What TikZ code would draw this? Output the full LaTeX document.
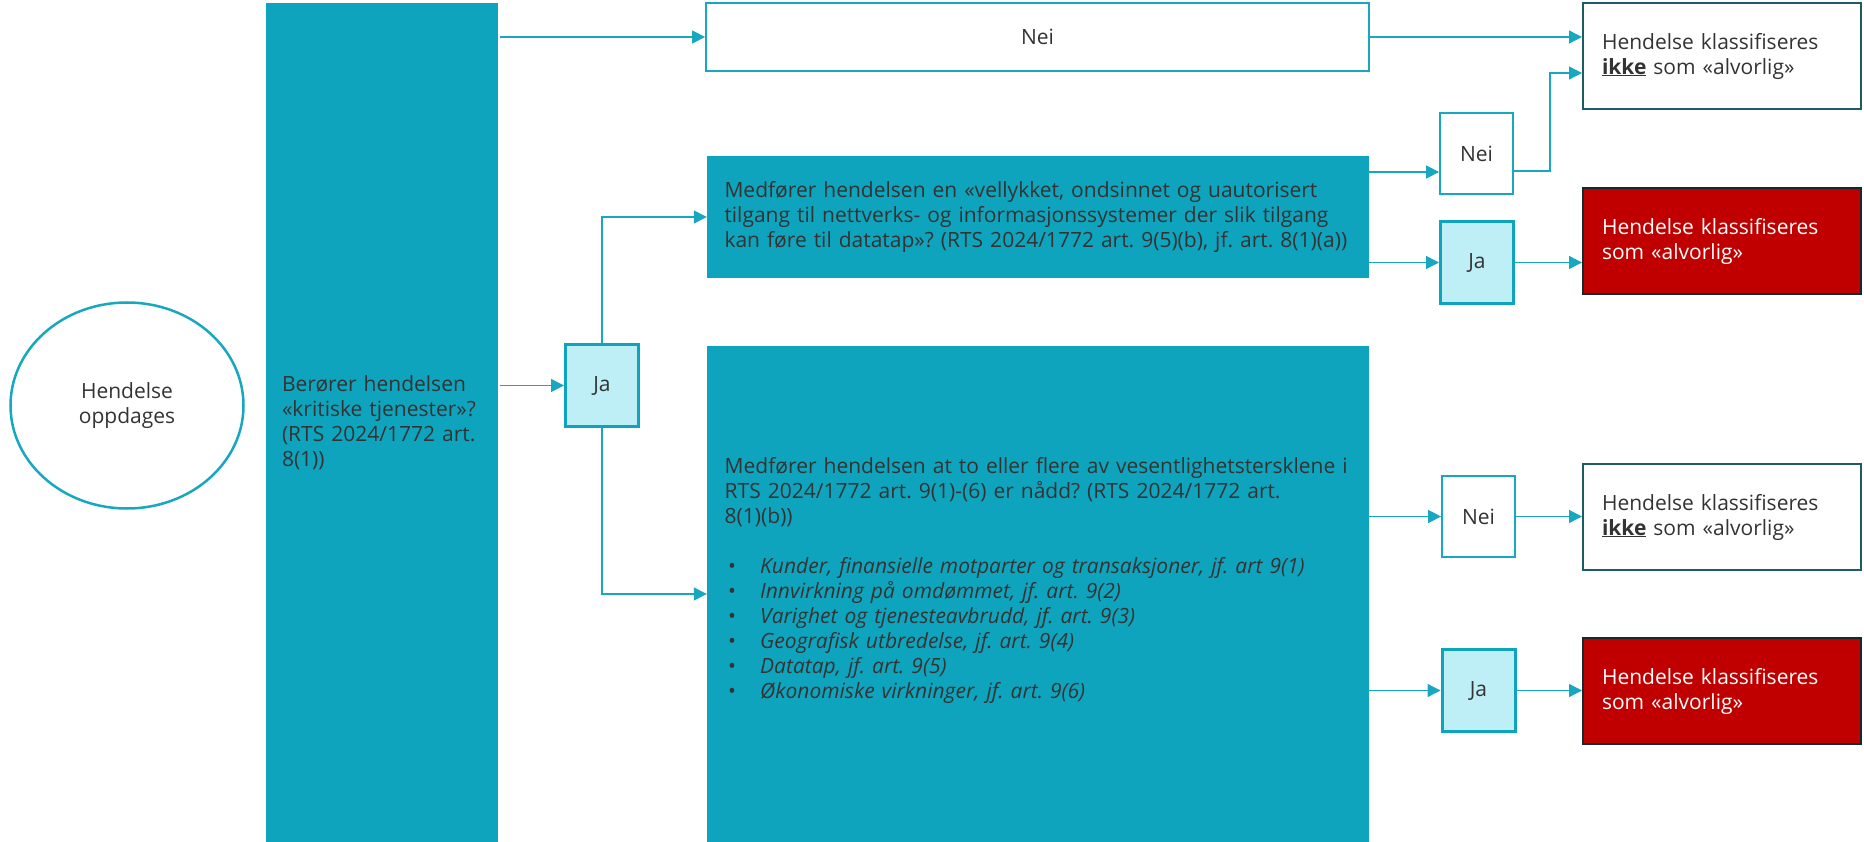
\documentclass[tikz,border=0pt]{standalone}
\usepackage{fontspec}
\setmainfont{Open Sans}
\frenchspacing
\usetikzlibrary{shapes.geometric,arrows.meta}
\definecolor{tealfyll}{HTML}{0FA4BD}
\definecolor{tealstrek}{HTML}{17A7C0}
\definecolor{jafyll}{HTML}{BEEFF6}
\definecolor{moerkkant}{HTML}{1D5C64}
\definecolor{roed}{HTML}{C00000}
\definecolor{roedkant}{HTML}{132B2E}
\definecolor{tekstgraa}{HTML}{333333}
\tikzset{
  tx/.style={font=\fontsize{21pt}{25pt}\selectfont, text=tekstgraa, inner sep=0pt},
  sirkel/.style={tx, ellipse, draw=tealstrek, line width=2.5pt, minimum width=233pt, minimum height=206pt, align=center},
  tealboks/.style={tx, fill=tealfyll, align=left},
  neiboks/.style={tx, draw=tealstrek, line width=1.8pt, fill=white, minimum width=73pt, minimum height=81pt},
  jaboks/.style={tx, draw=tealfyll, line width=3pt, fill=jafyll, minimum width=73pt, minimum height=82pt},
  ikkeboks/.style={tx, draw=moerkkant, line width=2pt, fill=white, minimum width=278pt, minimum height=106pt, text width=240pt, align=left},
  alvorligboks/.style={ikkeboks, draw=roedkant, fill=roed, text=white},
  pil/.style={draw=tealstrek, line width=1.3pt, -{Triangle[length=13pt,width=13pt]}}
}
\newcommand{\kulepunkt}[1]{\hspace*{3.5pt}\makebox[32pt][l]{•}\textit{#1}}

\begin{document}
\begin{tikzpicture}[x=1pt,y=-1pt]
\useasboundingbox (0,0) rectangle (1864,842);
\node [sirkel] (hendelse) at (127,405.5) {Hendelse\\oppdages};
\node [tealboks, minimum width=232pt, minimum height=839pt, text width=200pt] (kritisk) at (382,422.5)
  {Berører hendelsen\\«kritiske tjenester»?\\(RTS 2024/1772 art.\\8(1))};
\node [tx, draw=tealstrek, line width=1.8pt, minimum width=663pt, minimum height=68pt] (nei1) at (1037.5,37) {Nei};
\node [jaboks] (ja1) at (602,385.5) {Ja};
\node [tealboks, minimum width=662pt, minimum height=122pt, text width=627pt] (medfoerer) at (1038,217)
  {Medfører hendelsen en «vellykket, ondsinnet og uautorisert\\tilgang til nettverks- og informasjonssystemer der slik tilgang\\\mbox{kan føre til datatap»? (RTS 2024/1772 art. 9(5)(b), jf. art. 8(1)(a))}};
\node [tealboks, minimum width=662pt, minimum height=496pt] (vesentlig) at (1038,594) {};
\node [tx, anchor=north west, text width=640pt, align=left] (vesentlig-tekst) at (724.5,457)
  {Medfører hendelsen at to eller flere av vesentlighetstersklene i\\RTS 2024/1772 art. 9(1)-(6) er nådd? (RTS 2024/1772 art.\\8(1)(b))\\[25pt]
  \kulepunkt{Kunder, finansielle motparter og transaksjoner, jf. art 9(1)}\\
  \kulepunkt{Innvirkning på omdømmet, jf. art. 9(2)}\\
  \kulepunkt{Varighet og tjenesteavbrudd, jf. art. 9(3)}\\
  \kulepunkt{Geografisk utbredelse, jf. art. 9(4)}\\
  \kulepunkt{Datatap, jf. art. 9(5)}\\
  \kulepunkt{Økonomiske virkninger, jf. art. 9(6)}};
\node [neiboks] (nei2) at (1476.5,153.5) {Nei};
\node [jaboks] (ja2) at (1477,262.5) {Ja};
\node [neiboks] (nei3) at (1478.5,516.5) {Nei};
\node [jaboks] (ja3) at (1478.5,690.5) {Ja};
\node [ikkeboks] (ikke1) at (1722,56) {Hendelse klassifiseres\\\underline{\textbf{ikke}} som «alvorlig»};
\node [alvorligboks] (alvorlig1) at (1722,241) {Hendelse klassifiseres\\som «alvorlig»};
\node [ikkeboks] (ikke2) at (1722,517) {Hendelse klassifiseres\\\underline{\textbf{ikke}} som «alvorlig»};
\node [alvorligboks] (alvorlig2) at (1722,691) {Hendelse klassifiseres\\som «alvorlig»};
\draw [pil] ([xshift=2pt]kritisk.east |- nei1.west) -- (nei1.west);
\draw [pil] ([xshift=2pt]kritisk.east |- ja1.west) -- (ja1.west);
\draw [pil] (ja1.north) |- (medfoerer.west);
\draw [pil] (ja1.south) |- (vesentlig.west);
\draw [pil] (nei1.east) -- (ikke1.west |- nei1.east);
\draw [pil] (medfoerer.east |- 0,172) -- ([yshift=-18.5pt]nei2.west);
\draw [pil] ([yshift=-17.5pt]nei2.east) -- ++(36,0) |- ([yshift=-17pt]ikke1.west);
\draw [pil] (medfoerer.east |- ja2.west) -- (ja2.west);
\draw [pil] (ja2.east) -- (alvorlig1.west |- ja2.east);
\draw [pil] (vesentlig.east |- nei3.west) -- (nei3.west);
\draw [pil] (vesentlig.east |- ja3.west) -- (ja3.west);
\draw [pil] (nei3.east) -- (ikke2.west |- nei3.east);
\draw [pil] (ja3.east) -- (alvorlig2.west |- ja3.east);
\end{tikzpicture}
\end{document}
